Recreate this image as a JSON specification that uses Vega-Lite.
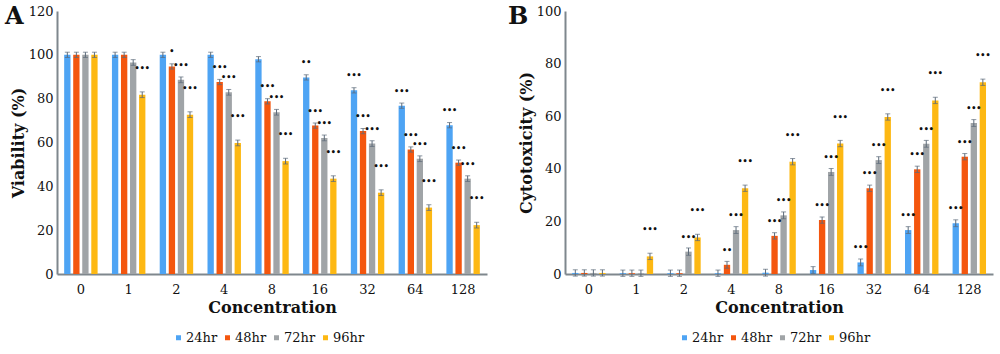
{
  "$schema": "https://vega.github.io/schema/vega-lite/v6.json",
  "padding": {"left": 5, "top": 5, "right": 8, "bottom": 4},
  "config": {
    "view": {"stroke": null},
    "font": "DejaVu Serif",
    "axis": {"ticks": false, "grid": false, "domainColor": "#7f878d", "domainWidth": 2, "labelFont": "DejaVu Serif", "labelFontSize": 13, "labelColor": "#111", "titleFont": "DejaVu Serif", "titleFontWeight": "bold", "titleFontSize": 16, "titleColor": "#111"},
    "legend": {"labelFont": "DejaVu Serif", "labelFontSize": 13, "labelColor": "#111", "symbolType": "square", "symbolSize": 25, "labelOffset": 1, "columnPadding": 3, "symbolStrokeWidth": 0}
  },
  "datasets": {
    "viability": [
      {"conc": "0", "series": "24hr", "value": 100, "err": 1.2, "sig": ""},
      {"conc": "0", "series": "48hr", "value": 100, "err": 1.2, "sig": ""},
      {"conc": "0", "series": "72hr", "value": 100, "err": 1.2, "sig": ""},
      {"conc": "0", "series": "96hr", "value": 100, "err": 1.2, "sig": ""},
      {"conc": "1", "series": "24hr", "value": 100, "err": 1.2, "sig": ""},
      {"conc": "1", "series": "48hr", "value": 100, "err": 1.2, "sig": ""},
      {"conc": "1", "series": "72hr", "value": 96.5, "err": 1.3, "sig": ""},
      {"conc": "1", "series": "96hr", "value": 81.8, "err": 1.3, "sig": "•••"},
      {"conc": "2", "series": "24hr", "value": 100, "err": 1.2, "sig": ""},
      {"conc": "2", "series": "48hr", "value": 94.7, "err": 1.2, "sig": "•"},
      {"conc": "2", "series": "72hr", "value": 88.6, "err": 1.3, "sig": "•••"},
      {"conc": "2", "series": "96hr", "value": 72.7, "err": 1.3, "sig": "•••"},
      {"conc": "4", "series": "24hr", "value": 100, "err": 1.2, "sig": ""},
      {"conc": "4", "series": "48hr", "value": 87.6, "err": 1.2, "sig": "•••"},
      {"conc": "4", "series": "72hr", "value": 82.9, "err": 1.3, "sig": "•••"},
      {"conc": "4", "series": "96hr", "value": 59.8, "err": 1.3, "sig": "•••"},
      {"conc": "8", "series": "24hr", "value": 98, "err": 1.2, "sig": ""},
      {"conc": "8", "series": "48hr", "value": 78.8, "err": 1.2, "sig": "•••"},
      {"conc": "8", "series": "72hr", "value": 73.8, "err": 1.3, "sig": "•••"},
      {"conc": "8", "series": "96hr", "value": 51.5, "err": 1.3, "sig": "•••"},
      {"conc": "16", "series": "24hr", "value": 89.7, "err": 1.2, "sig": "••"},
      {"conc": "16", "series": "48hr", "value": 67.7, "err": 1.2, "sig": "•••"},
      {"conc": "16", "series": "72hr", "value": 62.1, "err": 1.3, "sig": "•••"},
      {"conc": "16", "series": "96hr", "value": 43.5, "err": 1.3, "sig": "•••"},
      {"conc": "32", "series": "24hr", "value": 83.8, "err": 1.2, "sig": "•••"},
      {"conc": "32", "series": "48hr", "value": 65.2, "err": 1.2, "sig": "•••"},
      {"conc": "32", "series": "72hr", "value": 59.5, "err": 1.3, "sig": "•••"},
      {"conc": "32", "series": "96hr", "value": 37.1, "err": 1.3, "sig": "•••"},
      {"conc": "64", "series": "24hr", "value": 76.8, "err": 1.2, "sig": "•••"},
      {"conc": "64", "series": "48hr", "value": 56.8, "err": 1.2, "sig": "•••"},
      {"conc": "64", "series": "72hr", "value": 52.6, "err": 1.3, "sig": "•••"},
      {"conc": "64", "series": "96hr", "value": 30.3, "err": 1.3, "sig": "•••"},
      {"conc": "128", "series": "24hr", "value": 67.9, "err": 1.2, "sig": "•••"},
      {"conc": "128", "series": "48hr", "value": 50.8, "err": 1.2, "sig": "•••"},
      {"conc": "128", "series": "72hr", "value": 43.5, "err": 1.3, "sig": "•••"},
      {"conc": "128", "series": "96hr", "value": 22.3, "err": 1.3, "sig": "•••"}
    ],
    "cytotox": [
      {"conc": "0", "series": "24hr", "value": 0.4, "err": 1.2, "sig": ""},
      {"conc": "0", "series": "48hr", "value": 0.4, "err": 1.2, "sig": ""},
      {"conc": "0", "series": "72hr", "value": 0.4, "err": 1.2, "sig": ""},
      {"conc": "0", "series": "96hr", "value": 0.4, "err": 1.2, "sig": ""},
      {"conc": "1", "series": "24hr", "value": 0.3, "err": 1.2, "sig": ""},
      {"conc": "1", "series": "48hr", "value": 0.3, "err": 1.2, "sig": ""},
      {"conc": "1", "series": "72hr", "value": 0.3, "err": 1.2, "sig": ""},
      {"conc": "1", "series": "96hr", "value": 6.7, "err": 1.2, "sig": "•••"},
      {"conc": "2", "series": "24hr", "value": 0.3, "err": 1.2, "sig": ""},
      {"conc": "2", "series": "48hr", "value": 0.3, "err": 1.2, "sig": ""},
      {"conc": "2", "series": "72hr", "value": 8.5, "err": 1.4, "sig": "•••"},
      {"conc": "2", "series": "96hr", "value": 13.9, "err": 1.2, "sig": "•••"},
      {"conc": "4", "series": "24hr", "value": 0.3, "err": 1.2, "sig": ""},
      {"conc": "4", "series": "48hr", "value": 3.5, "err": 1.3, "sig": "••"},
      {"conc": "4", "series": "72hr", "value": 16.7, "err": 1.3, "sig": "•••"},
      {"conc": "4", "series": "96hr", "value": 32.6, "err": 1.2, "sig": "•••"},
      {"conc": "8", "series": "24hr", "value": 0.5, "err": 1.3, "sig": ""},
      {"conc": "8", "series": "48hr", "value": 14.5, "err": 1.2, "sig": "•••"},
      {"conc": "8", "series": "72hr", "value": 22.3, "err": 1.3, "sig": "•••"},
      {"conc": "8", "series": "96hr", "value": 42.7, "err": 1.2, "sig": "•••"},
      {"conc": "16", "series": "24hr", "value": 1.5, "err": 1.3, "sig": ""},
      {"conc": "16", "series": "48hr", "value": 20.5, "err": 1.2, "sig": "•••"},
      {"conc": "16", "series": "72hr", "value": 38.8, "err": 1.3, "sig": "•••"},
      {"conc": "16", "series": "96hr", "value": 49.6, "err": 1.2, "sig": "•••"},
      {"conc": "32", "series": "24hr", "value": 4.4, "err": 1.3, "sig": "•••"},
      {"conc": "32", "series": "48hr", "value": 32.6, "err": 1.2, "sig": "•••"},
      {"conc": "32", "series": "72hr", "value": 43.3, "err": 1.3, "sig": "•••"},
      {"conc": "32", "series": "96hr", "value": 59.7, "err": 1.2, "sig": "•••"},
      {"conc": "64", "series": "24hr", "value": 16.7, "err": 1.3, "sig": "•••"},
      {"conc": "64", "series": "48hr", "value": 39.8, "err": 1.2, "sig": "•••"},
      {"conc": "64", "series": "72hr", "value": 49.5, "err": 1.3, "sig": "•••"},
      {"conc": "64", "series": "96hr", "value": 66.0, "err": 1.2, "sig": "•••"},
      {"conc": "128", "series": "24hr", "value": 19.3, "err": 1.3, "sig": "•••"},
      {"conc": "128", "series": "48hr", "value": 44.6, "err": 1.2, "sig": "•••"},
      {"conc": "128", "series": "72hr", "value": 57.4, "err": 1.3, "sig": "•••"},
      {"conc": "128", "series": "96hr", "value": 72.9, "err": 1.2, "sig": "•••"}
    ]
  },
  "resolve": {"scale": {"color": "independent", "y": "independent"}},
  "spacing": 21,
  "hconcat": [
    {
      "width": 430,
      "height": 263,
      "title": {"text": "A", "anchor": "start", "frame": "group", "fontSize": 24, "fontWeight": "bold", "font": "DejaVu Serif", "dx": -52, "offset": -24, "color": "#111"},
      "data": {"name": "viability"},
      "encoding": {
        "x": {"field": "conc", "type": "ordinal", "sort": ["0", "1", "2", "4", "8", "16", "32", "64", "128"], "scale": {"paddingInner": 0.3, "paddingOuter": 0.15}, "axis": {"labelAngle": 0, "title": "Concentration", "labelPadding": 9, "titlePadding": 3}},
        "xOffset": {"field": "series", "type": "nominal", "sort": ["24hr", "48hr", "72hr", "96hr"], "scale": {"paddingInner": 0.3}},
        "y": {"field": "value", "type": "quantitative", "scale": {"domain": [0, 120]}, "axis": {"values": [0, 20, 40, 60, 80, 100, 120], "title": "Viability (%)", "labelPadding": 4, "titlePadding": 2}}
      },
      "layer": [
        {
          "mark": {"type": "bar"},
          "encoding": {
            "color": {"field": "series", "type": "nominal", "scale": {"domain": ["24hr", "48hr", "72hr", "96hr"], "range": ["#4ea4f4", "#f4560e", "#a0a4a7", "#fdb813"]}, "legend": {"orient": "none", "direction": "horizontal", "title": null, "legendX": 115, "legendY": 320}}
          }
        },
        {
          "mark": {"type": "errorbar", "ticks": {"size": 5, "thickness": 1}, "color": "#5d6b7a", "thickness": 1},
          "encoding": {"yError": {"field": "err"}}
        },
        {
          "transform": [{"filter": "datum.series !== '96hr'"}],
          "mark": {"type": "text", "font": "DejaVu Sans", "fontSize": 8, "fontWeight": "bold", "color": "#111", "dy": -14, "baseline": "middle"},
          "encoding": {"text": {"field": "sig"}}
        },
        {
          "transform": [{"filter": "datum.series === '96hr'"}],
          "mark": {"type": "text", "font": "DejaVu Sans", "fontSize": 8, "fontWeight": "bold", "color": "#111", "dy": -26, "baseline": "middle"},
          "encoding": {"text": {"field": "sig"}}
        }
      ]
    },
    {
      "width": 428,
      "height": 263,
      "title": {"text": "B", "anchor": "start", "frame": "group", "fontSize": 24, "fontWeight": "bold", "font": "DejaVu Serif", "dx": -57, "offset": -24, "color": "#111"},
      "data": {"name": "cytotox"},
      "encoding": {
        "x": {"field": "conc", "type": "ordinal", "sort": ["0", "1", "2", "4", "8", "16", "32", "64", "128"], "scale": {"paddingInner": 0.3, "paddingOuter": 0.15}, "axis": {"labelAngle": 0, "title": "Concentration", "labelPadding": 9, "titlePadding": 3}},
        "xOffset": {"field": "series", "type": "nominal", "sort": ["24hr", "48hr", "72hr", "96hr"], "scale": {"paddingInner": 0.3}},
        "y": {"field": "value", "type": "quantitative", "scale": {"domain": [0, 100]}, "axis": {"values": [0, 20, 40, 60, 80, 100], "title": "Cytotoxicity (%)", "labelPadding": 4, "titlePadding": 2}}
      },
      "layer": [
        {
          "mark": {"type": "bar"},
          "encoding": {
            "color": {"field": "series", "type": "nominal", "scale": {"domain": ["24hr", "48hr", "72hr", "96hr"], "range": ["#4ea4f4", "#f4560e", "#a0a4a7", "#fdb813"]}, "legend": {"orient": "none", "direction": "horizontal", "title": null, "legendX": 113, "legendY": 320}}
          }
        },
        {
          "mark": {"type": "errorbar", "ticks": {"size": 5, "thickness": 1}, "color": "#5d6b7a", "thickness": 1},
          "encoding": {"yError": {"field": "err"}}
        },
        {
          "transform": [{"filter": "datum.series !== '96hr'"}],
          "mark": {"type": "text", "font": "DejaVu Sans", "fontSize": 8, "fontWeight": "bold", "color": "#111", "dy": -14, "baseline": "middle"},
          "encoding": {"text": {"field": "sig"}}
        },
        {
          "transform": [{"filter": "datum.series === '96hr'"}],
          "mark": {"type": "text", "font": "DejaVu Sans", "fontSize": 8, "fontWeight": "bold", "color": "#111", "dy": -26, "baseline": "middle"},
          "encoding": {"text": {"field": "sig"}}
        }
      ]
    }
  ]
}
